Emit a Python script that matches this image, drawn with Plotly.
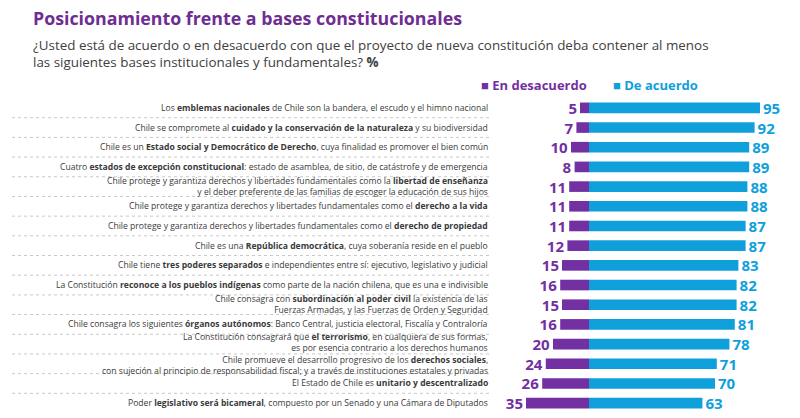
import plotly.graph_objects as go

labels = [
    "Los <b>emblemas nacionales</b> de Chile son la bandera, el escudo y el himno nacional",
    "Chile se compromete al <b>cuidado y la conservación de la naturaleza</b> y su biodiversidad",
    "Chile es un <b>Estado social y Democrático de Derecho</b>, cuya finalidad es promover el bien común",
    "Cuatro <b>estados de excepción constitucional</b>: estado de asamblea, de sitio, de catástrofe y de emergencia",
    "Chile protege y garantiza derechos y libertades fundamentales como la <b>libertad de enseñanza</b><br>y el deber preferente de las familias de escoger la educación de sus hijos",
    "Chile protege y garantiza derechos y libertades fundamentales como el <b>derecho a la vida</b>",
    "Chile protege y garantiza derechos y libertades fundamentales como el <b>derecho de propiedad</b>",
    "Chile es una <b>República democrática</b>, cuya soberanía reside en el pueblo",
    "Chile tiene <b>tres poderes separados</b> e independientes entre sí: ejecutivo, legislativo y judicial",
    "La Constitución <b>reconoce a los pueblos indígenas</b> como parte de la nación chilena, que es una e indivisible",
    "Chile consagra con <b>subordinación al poder civil</b> la existencia de las<br>Fuerzas Armadas, y las Fuerzas de Orden y Seguridad",
    "Chile consagra los siguientes <b>órganos autónomos</b>: Banco Central, justicia electoral, Fiscalía y Contraloría",
    "La Constitución consagrará que <b>el terrorismo</b>, en cualquiera de sus formas,<br>es por esencia contrario a los derechos humanos",
    "Chile promueve el desarrollo progresivo de los <b>derechos sociales</b>,<br>con sujeción al principio de responsabilidad fiscal; y a través de instituciones estatales y privadas",
    "El Estado de Chile es <b>unitario y descentralizado</b>",
    "Poder <b>legislativo será bicameral</b>, compuesto por un Senado y una Cámara de Diputados",
]
disagree = [5, 7, 10, 8, 11, 11, 11, 12, 15, 16, 15, 16, 20, 24, 26, 35]
agree = [95, 92, 89, 89, 88, 88, 87, 87, 83, 82, 82, 81, 78, 71, 70, 63]
series_names = ["En desacuerdo", "De acuerdo"]

title = "Posicionamiento frente a bases constitucionales"
subtitle = ("¿Usted está de acuerdo o en desacuerdo con que el proyecto de nueva constitución deba contener al menos"
            "<br>las siguientes bases institucionales y fundamentales? <b>%</b>")

PURPLE = "#7330A2"
BLUE = "#0FA0DC"
TITLE_PURPLE = "#6E2D91"
FONT = "Open Sans"

W, H = 800, 418
TOP_S, BOT_S = 98.2, 413.1
MT = TOP_S
MB = H - BOT_S
plot_h = H - MT - MB


def px(sx):
    return sx / W


def py(sy):
    return (H - MB - sy) / plot_h


fig = go.Figure()
fig.add_trace(go.Bar(
    y=labels, x=[-v for v in disagree], orientation="h", name=series_names[0],
    marker=dict(color=PURPLE, line=dict(width=0)), width=0.54,
    text=[str(v) for v in disagree], textposition="outside", cliponaxis=False,
    textfont=dict(family=FONT, size=15, color=PURPLE, weight="bold"),
    constraintext="none", hoverinfo="skip", showlegend=False,
))
fig.add_trace(go.Bar(
    y=labels, x=agree, orientation="h", name=series_names[1],
    marker=dict(color=BLUE, line=dict(width=0)), width=0.54,
    text=[str(v) for v in agree], textposition="outside", cliponaxis=False,
    textfont=dict(family=FONT, size=15, color=BLUE, weight="bold"),
    constraintext="none", hoverinfo="skip", showlegend=False,
))


def is_multi(i):
    return 0 <= i < len(labels) and "<br>" in labels[i]


annotations = []
for i, lab in enumerate(labels):
    shift = 0
    if is_multi(i) and is_multi(i + 1):
        shift += 2
    if is_multi(i) and is_multi(i - 1):
        shift -= 2
    annotations.append(dict(
        x=px(490), xref="paper", y=lab, yref="y", yshift=shift, text=lab, showarrow=False,
        xanchor="right", yanchor="middle", align="right",
        font=dict(family=FONT, size=8.6, color="#3a3a3a"),
    ))

annotations.append(dict(x=px(31), xref="paper", y=py(18), yref="paper", text="<b>" + title + "</b>",
                        showarrow=False, xanchor="left", yanchor="middle",
                        font=dict(family=FONT, size=17.8, color=TITLE_PURPLE)))
annotations.append(dict(x=px(31), xref="paper", y=py(53.5), yref="paper", text=subtitle,
                        showarrow=False, xanchor="left", yanchor="middle", align="left",
                        font=dict(family=FONT, size=13.4, color="#404040")))
annotations.append(dict(x=px(479), xref="paper", y=py(85), yref="paper",
                        text="■ <b>" + series_names[0] + "</b>",
                        showarrow=False, xanchor="left", yanchor="middle",
                        font=dict(family=FONT, size=13, color=PURPLE)))
annotations.append(dict(x=px(611), xref="paper", y=py(85), yref="paper",
                        text="■ <b>" + series_names[1] + "</b>",
                        showarrow=False, xanchor="left", yanchor="middle",
                        font=dict(family=FONT, size=13, color=BLUE)))

shapes = []
for i in range(len(labels) - 1):
    shapes.append(dict(type="line", xref="paper", yref="y", x0=px(12), x1=px(490),
                       y0=i + 0.5, y1=i + 0.5,
                       line=dict(color="#c8c8c8", width=1, dash="dot")))

zero_s = 589
scale = 1.8
fig.update_layout(
    width=W, height=H,
    margin=dict(l=0, r=0, t=MT, b=MB, pad=0),
    barmode="overlay",
    paper_bgcolor="white", plot_bgcolor="white",
    xaxis=dict(range=[-zero_s / scale, (W - zero_s) / scale], visible=False, fixedrange=True),
    yaxis=dict(categoryorder="array", categoryarray=labels, autorange=False,
               range=[len(labels) - 0.5, -0.5], visible=False, fixedrange=True),
    annotations=annotations, shapes=shapes,
    font=dict(family=FONT),
    showlegend=False,
)
fig.write_html("out.html", config={"displayModeBar": False},
               post_script="document.body.style.margin='0';")
